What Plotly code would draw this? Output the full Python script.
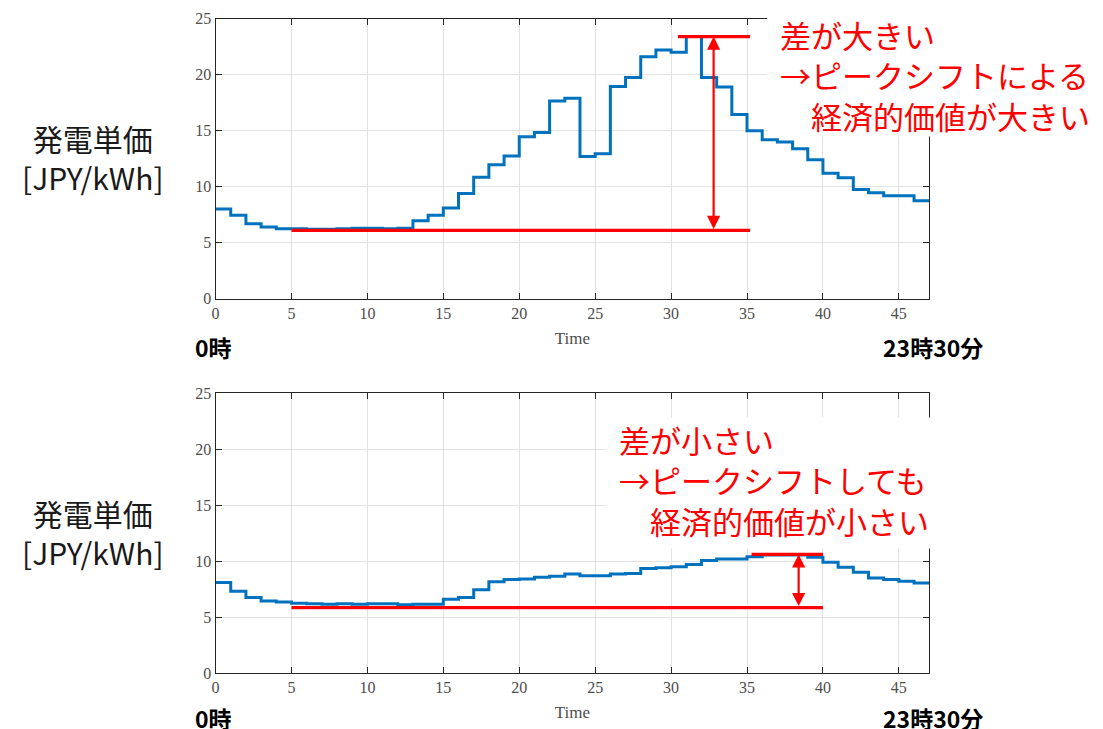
import plotly.graph_objects as go

# ---------------- data ----------------
time_idx = list(range(48))  # 0 .. 47 (30-minute slots)

cost_top = [8.0, 7.45, 6.7, 6.4, 6.25, 6.25, 6.2, 6.2, 6.25, 6.3, 6.3, 6.25, 6.3, 6.95, 7.45, 8.1,
            9.4, 10.85, 11.95, 12.75, 14.45, 14.85, 17.65, 17.9, 12.7, 12.95, 18.95, 19.75, 21.6,
            22.2, 22.0, 23.4, 19.75, 18.9, 16.45, 15.0, 14.2, 14.0, 13.4, 12.4, 11.2, 10.8, 9.75,
            9.45, 9.2, 9.2, 8.75, 8.75]

cost_bottom = [8.1, 7.3, 6.75, 6.45, 6.35, 6.25, 6.2, 6.15, 6.2, 6.15, 6.2, 6.2, 6.1, 6.15, 6.15,
               6.6, 6.75, 7.45, 8.15, 8.35, 8.4, 8.55, 8.65, 8.85, 8.7, 8.7, 8.85, 8.9, 9.35, 9.4,
               9.5, 9.7, 10.05, 10.2, 10.2, 10.4, 10.55, 10.55, 10.55, 10.35, 9.9, 9.45, 9.0, 8.5,
               8.35, 8.2, 8.05, 8.05]

# reference (red) lines: [x_start, x_end], level
top_base_x = [5, 35.2]
top_base_y = 6.1
top_peak_x = [30.45, 35.2]
top_peak_y = 23.4
top_arrow_x = 32.8

bot_base_x = [5, 40]
bot_base_y = 5.85
bot_peak_x = [35.3, 40]
bot_peak_y = 10.6
bot_arrow_x = 38.4

x_ticks = [0, 5, 10, 15, 20, 25, 30, 35, 40, 45]
y_ticks = [0, 5, 10, 15, 20, 25]

ylabel_text = ["発電単価", "[JPY/kWh]"]
note_top = ["差が大きい", "→ピークシフトによる", "\u3000経済的価値が大きい"]
note_bottom = ["差が小さい", "→ピークシフトしても", "\u3000経済的価値が小さい"]

# ---------------- figure ----------------
# empirical placement of the figure inside the captured page
X_OFF, Y_OFF, Y_SCALE = 9.0, 15.6, 0.9767
W, H = 1094, 731
BLUE = "#0072BD"
RED = "#FF0000"


def px(x):
    return (x - X_OFF) / W


def py(y):
    return 1 - ((y - Y_OFF) / Y_SCALE) / H


fig = go.Figure()

for ax, ydata in (("", cost_top), ("2", cost_bottom)):
    fig.add_trace(go.Scatter(x=time_idx, y=ydata, mode="lines", line=dict(color=BLUE, width=3, shape="hv"),
                             xaxis="x" + ax, yaxis="y" + ax, showlegend=False, hoverinfo="skip"))

for ax, bx, by, kx, ky in (("", top_base_x, top_base_y, top_peak_x, top_peak_y),
                           ("2", bot_base_x, bot_base_y, bot_peak_x, bot_peak_y)):
    fig.add_trace(go.Scatter(x=bx, y=[by, by], mode="lines", line=dict(color=RED, width=3.2),
                             xaxis="x" + ax, yaxis="y" + ax, showlegend=False, hoverinfo="skip"))
    fig.add_trace(go.Scatter(x=kx, y=[ky, ky], mode="lines", line=dict(color=RED, width=3.2),
                             xaxis="x" + ax, yaxis="y" + ax, showlegend=False, hoverinfo="skip"))

axis_common = dict(showgrid=True, gridcolor="#e2e2e2", gridwidth=1, showline=True, linecolor="#262626",
                   linewidth=1.3, mirror="ticks", ticks="inside", ticklen=6, tickcolor="#262626",
                   tickwidth=1.2, zeroline=False, tickfont=dict(family="Liberation Serif", size=16, color="#4d4d4d"))

x_dom = [px(213.3), px(929.6)]
title_font = dict(family="Liberation Serif", size=17, color="#4d4d4d")
fig.update_layout(
    width=W, height=H, margin=dict(l=0, r=0, t=0, b=0),
    paper_bgcolor="white", plot_bgcolor="white",
    xaxis=dict(domain=x_dom, range=[0, 47], tickvals=x_ticks, anchor="y",
               title=dict(text="Time", font=title_font, standoff=11), **axis_common),
    yaxis=dict(domain=[py(298.3), py(18.3)], range=[0, 25], tickvals=y_ticks, anchor="x", **axis_common),
    xaxis2=dict(domain=x_dom, range=[0, 47], tickvals=x_ticks, anchor="y2",
                title=dict(text="Time", font=title_font, standoff=10), **axis_common),
    yaxis2=dict(domain=[py(672.7), py(392.7)], range=[0, 25], tickvals=y_ticks, anchor="x2", **axis_common),
)

# white text boxes covering part of the plots
fig.add_shape(type="rect", xref="paper", yref="paper", x0=px(767), x1=1.0, y0=py(136), y1=1.0,
              fillcolor="white", line=dict(width=0), layer="above")
fig.add_shape(type="rect", xref="paper", yref="paper", x0=px(606), x1=px(948), y0=py(548), y1=py(417),
              fillcolor="white", line=dict(width=0), layer="above")

annotations = []
# double-headed arrows
for ax, xa, y0, y1 in (("", top_arrow_x, top_base_y, top_peak_y), ("2", bot_arrow_x, bot_base_y, bot_peak_y)):
    annotations.append(dict(x=xa, y=y1, ax=xa, ay=y0, xref="x" + ax, yref="y" + ax, axref="x" + ax,
                            ayref="y" + ax, text="", showarrow=True, arrowhead=2, startarrowhead=2,
                            arrowside="end+start", arrowsize=1.2, startarrowsize=1.2, arrowwidth=2.2,
                            arrowcolor=RED, standoff=0, startstandoff=0))

note_font = dict(family="Noto Sans CJK JP", size=31, color=RED)
for lines, x, y in ((note_top, 778, 75), (note_bottom, 616, 480)):
    annotations.append(dict(x=px(x), y=py(y), xref="paper", yref="paper", text="<br>".join(lines),
                            showarrow=False, xanchor="left", yanchor="middle", align="left", font=note_font))

lab_font = dict(family="Noto Sans CJK JP", size=30, color="#1a1a1a")
for y in (157, 532):
    annotations.append(dict(x=px(90), y=py(y), xref="paper", yref="paper", text="<br>".join(ylabel_text),
                            showarrow=False, xanchor="center", yanchor="middle", align="center", font=lab_font))

tfont = dict(family="Noto Sans CJK JP", size=23, color="black", weight="bold")
for y in (347, 718):
    annotations.append(dict(x=px(191), y=py(y), xref="paper", yref="paper", text="0時", showarrow=False,
                            xanchor="left", yanchor="middle", font=tfont))
    annotations.append(dict(x=px(986), y=py(y), xref="paper", yref="paper", text="23時30分", showarrow=False,
                            xanchor="right", yanchor="middle", font=tfont))

fig.update_layout(annotations=annotations)
fig.write_html("out.html")
